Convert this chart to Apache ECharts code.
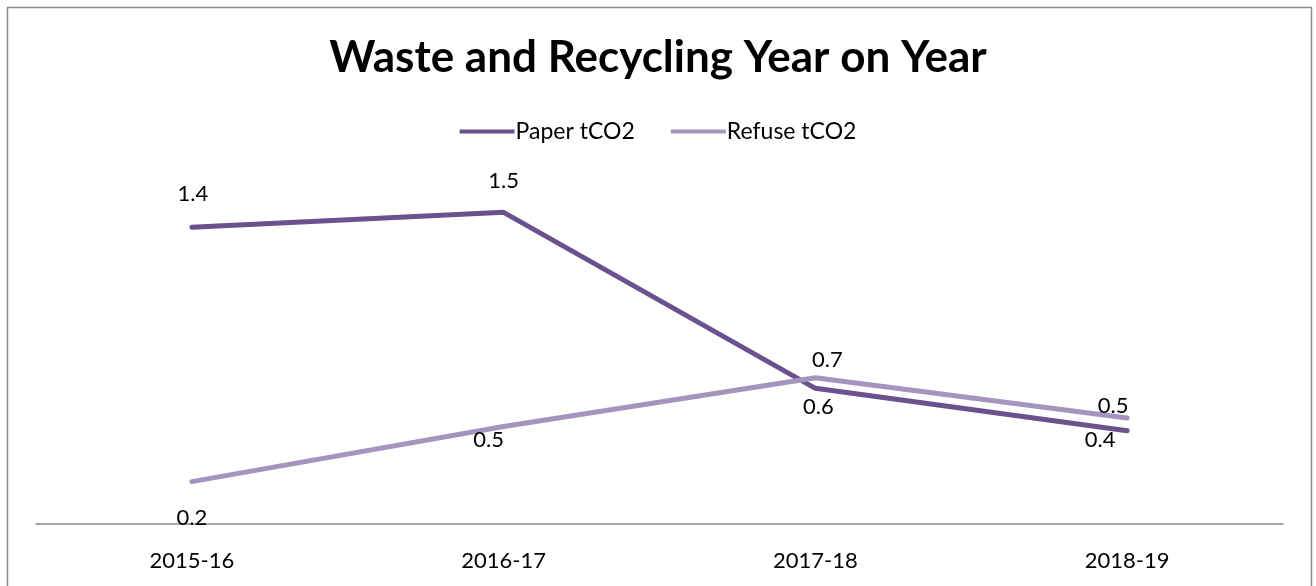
<!DOCTYPE html>
<html>
<head>
<meta charset="utf-8">
<title>Waste and Recycling Year on Year</title>
<script src="https://cdn.jsdelivr.net/npm/echarts@6/dist/echarts.min.js"></script>
<style>
  html, body { margin: 0; padding: 0; background: #fff; }
  #chart { width: 1316px; height: 586px; }
</style>
</head>
<body>
<div id="chart"></div>
<script>
  // data
  const years = ['2015-16', '2016-17', '2017-18', '2018-19']
  const paper = [1.40, 1.47, 0.64, 0.44]
  const refuse = [0.20, 0.46, 0.69, 0.50]

  // where each data label sits relative to its point (px)
  const paperLabelOffset = [[1, -33], [0, -31], [3, 19], [-27, 9]]
  const refuseLabelOffset = [[0, 36], [-15, 13], [12, -18], [-14, -12]]

  const font = 'Lato, "Open Sans", sans-serif'

  function withLabels(values, offsets) {
    return values.map((v, i) => ({
      value: v,
      label: { offset: offsets[i] }
    }))
  }

  const labelStyle = {
    show: true,
    position: 'inside',
    color: '#000',
    fontSize: 22,
    fontFamily: font,
    formatter: p => p.value.toFixed(1)
  }

  const chart = echarts.init(document.getElementById('chart'))
  chart.setOption({
    animation: false,
    textStyle: { fontFamily: font },
    title: {
      text: 'Waste and Recycling Year on Year',
      left: 'center',
      top: 31,
      textStyle: { fontFamily: font, fontWeight: 'bold', fontSize: 44, color: '#000' }
    },
    legend: {
      data: ['Paper tCO2', 'Refuse tCO2'],
      top: 115,
      left: 'center',
      itemWidth: 55,
      itemHeight: 4,
      itemGap: 36,
      icon: 'rect',
      textStyle: { fontFamily: font, fontSize: 23, color: '#000', padding: [0, 0, 0, -4] }
    },
    graphic: [{
      type: 'rect',
      shape: { x: 7.5, y: 7.5, width: 1304, height: 620 },
      style: { fill: 'none', stroke: '#8c8c8c', lineWidth: 1.5 },
      silent: true
    }],
    grid: { left: 36, right: 33, top: 100, bottom: 62 },
    xAxis: {
      type: 'category',
      data: years,
      boundaryGap: true,
      axisLine: { lineStyle: { color: '#8c8c8c', width: 1.5 } },
      axisTick: { show: false },
      axisLabel: { color: '#000', fontSize: 22, fontFamily: font, margin: 26 }
    },
    yAxis: {
      type: 'value',
      min: 0,
      max: 2,
      show: false,
      splitLine: { show: false }
    },
    series: [
      {
        name: 'Paper tCO2',
        type: 'line',
        data: withLabels(paper, paperLabelOffset),
        color: '#6b518d',
        showSymbol: true,
        symbol: 'circle',
        symbolSize: 0,
        lineStyle: { width: 5, cap: 'round', join: 'round' },
        label: labelStyle
      },
      {
        name: 'Refuse tCO2',
        type: 'line',
        data: withLabels(refuse, refuseLabelOffset),
        color: '#a395be',
        showSymbol: true,
        symbol: 'circle',
        symbolSize: 0,
        lineStyle: { width: 5, cap: 'round', join: 'round' },
        label: labelStyle
      }
    ]
  })
</script>
</body>
</html>
